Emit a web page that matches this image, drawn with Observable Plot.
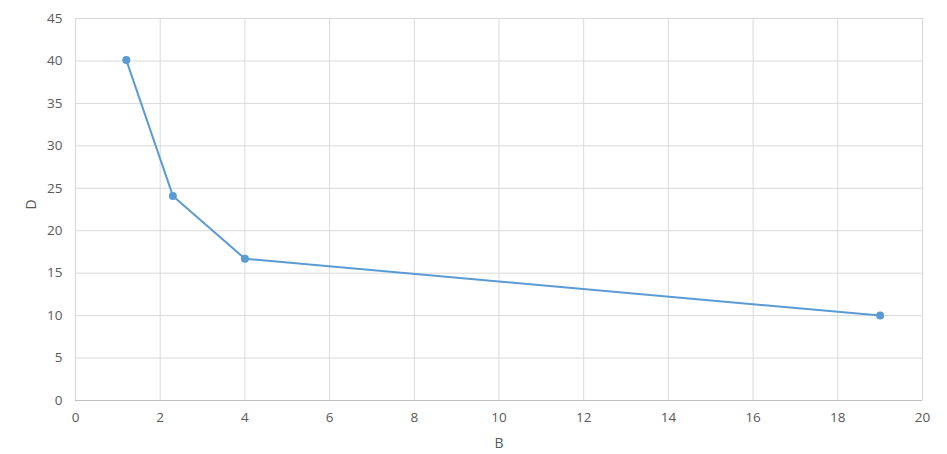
<!DOCTYPE html>
<html><head><meta charset="utf-8">
<script src="https://cdn.jsdelivr.net/npm/d3@7"></script>
<script src="https://cdn.jsdelivr.net/npm/@observablehq/plot@0.6"></script>
<style>
body{margin:0;background:#fff;}
</style>
</head><body>
<div id="chart"></div>
<script>
const bValues = [1.2, 2.3, 4, 19];
const dValues = [40.1, 24.1, 16.7, 10];
const xTicks = [0,2,4,6,8,10,12,14,16,18,20];
const yTicks = [0,5,10,15,20,25,30,35,40,45];
const xLabel = "B";
const yLabel = "D";

const data = bValues.map((b,i)=>({B:b, D:dValues[i]}));
const color = "#5b9bd5";
const fs = 13.5;
const chart = Plot.plot({
  width: 947, height: 454,
  marginLeft: 75, marginRight: 25, marginTop: 18, marginBottom: 54,
  style: {fontFamily: "'Open Sans', sans-serif", fontSize: fs + "px", color: "#595959", background: "#fff"},
  x: {domain: [0,20], ticks: xTicks, label: null},
  y: {domain: [0,45], ticks: yTicks, label: null},
  marks: [
    Plot.gridX(xTicks, {stroke: "#d9d9d9", strokeOpacity: 1}),
    Plot.gridY(yTicks, {stroke: "#d9d9d9", strokeOpacity: 1}),
    Plot.ruleY([0], {stroke: "#bfbfbf"}),
    Plot.axisX(xTicks, {tickSize: 0, tickPadding: 12, fontSize: fs, fill: "#595959"}),
    Plot.axisY(yTicks, {tickSize: 0, tickPadding: 13, fontSize: fs, fill: "#595959"}),
    Plot.line(data, {x: "B", y: "D", stroke: color, strokeWidth: 2}),
    Plot.dot(data, {x: "B", y: "D", fill: color, r: 4}),
    Plot.text([xLabel], {frameAnchor: "bottom", lineAnchor: "middle", dy: 43, fontSize: fs + 0.5, fill: "#595959"}),
    Plot.text([yLabel], {frameAnchor: "left", lineAnchor: "middle", dx: -44, rotate: -90, fontSize: fs + 0.5, fill: "#595959"})
  ]
});
document.getElementById("chart").appendChild(chart);
</script>
</body></html>
